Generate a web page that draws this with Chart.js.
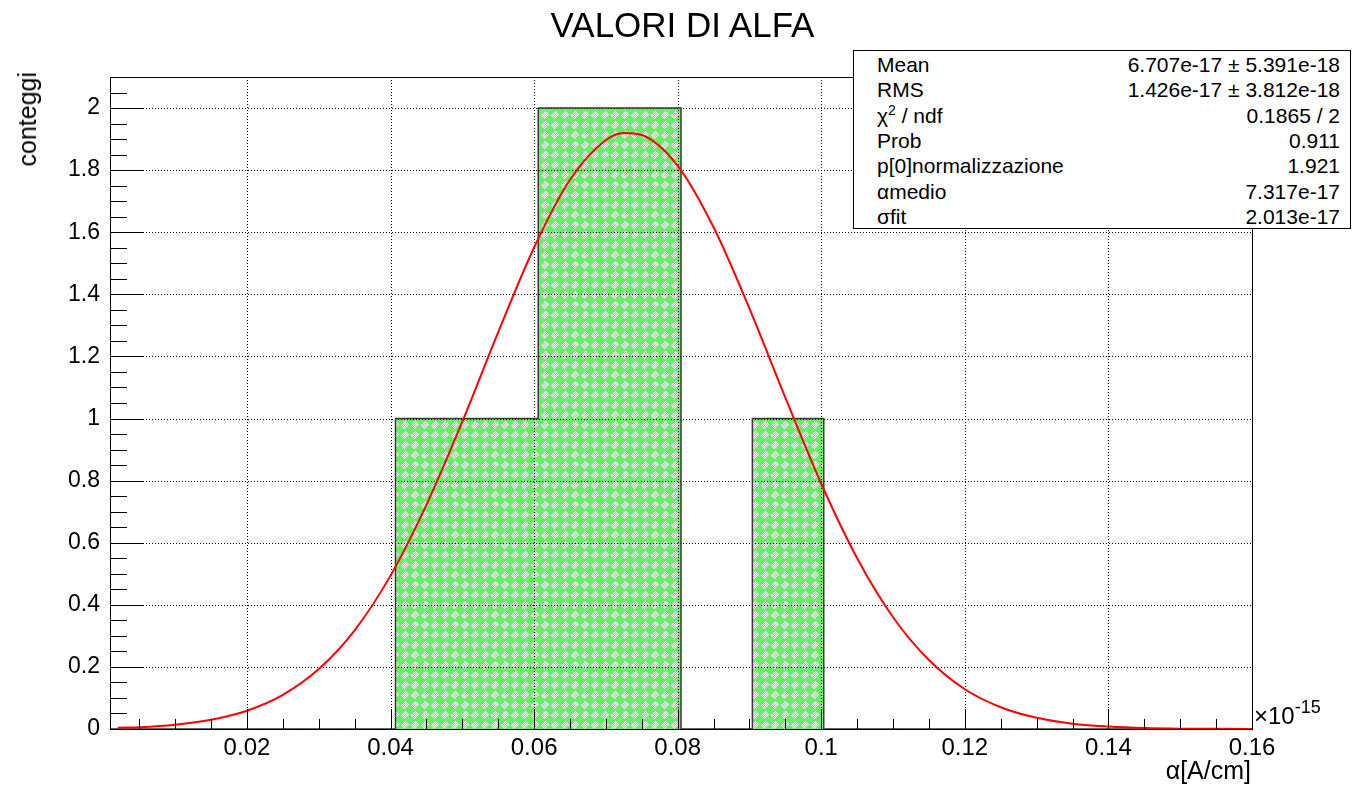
<!DOCTYPE html>
<html>
<head>
<meta charset="utf-8">
<script src="https://cdn.jsdelivr.net/npm/chart.js@4"></script>
<style>
  body { margin: 0; background: #fff; }
  #wrap { position: relative; width: 1365px; height: 786px; font-family: 'Liberation Sans', Arial, Helvetica, sans-serif; color: #000; }
  #wrap canvas { position: absolute; left: 0; top: 0; }
  .txt { position: absolute; white-space: nowrap; }
  #title { left: 0; width: 1365px; top: 5px; text-align: center; font-size: 35px; }
  #ylab { left: 15px; top: 72px; font-size: 25px; line-height: 25px; transform-origin: 0 0; transform: rotate(-90deg) translate(-100%, 0); }
  #xlab { right: 114px; top: 756px; font-size: 25px; }
  #expo { left: 1254px; top: 702px; font-size: 24px; line-height: 28px; }
  #expo sup { font-size: 18px; line-height: 0; position: relative; top: -2px; }
  #stats { position: absolute; left: 853px; top: 50px; width: 496px; height: 177px; border: 1px solid #000; background: #fff; font-size: 21px; }
  #stats .row { position: absolute; left: 23px; right: 10px; height: 25px; line-height: 25px; }
  #stats .row span:last-child { position: absolute; right: 0; top: 0; }
  #stats sup { font-size: 14px; line-height: 0; vertical-align: 8px; }
</style>
</head>
<body>
<div id="wrap">
  <canvas id="hist" width="1365" height="786"></canvas>
  <div class="txt" id="title">VALORI DI ALFA</div>
  <div class="txt" id="ylab">conteggi</div>
  <div class="txt" id="xlab">α[A/cm]</div>
  <div class="txt" id="expo">×10<sup>-15</sup></div>
  <div id="stats"></div>
</div>
<script>
// histogram: 16 bins between xMin and xMax (units of 1e-15)
const xMin = 0.00092;
const xMax = 0.16;
const binCounts = [0, 0, 0, 0, 1, 1, 2, 2, 0, 1, 0, 0, 0, 0, 0, 0];

// gaussian fit curve
const fitX = [0.002, 0.005, 0.010, 0.015, 0.020, 0.025, 0.030, 0.035, 0.040, 0.045, 0.050, 0.055, 0.060, 0.065, 0.070, 0.0725,
              0.075, 0.080, 0.085, 0.090, 0.095, 0.100, 0.105, 0.110, 0.115, 0.120, 0.125, 0.130, 0.135, 0.140, 0.145, 0.150, 0.155, 0.160];
const fitY = [0.004, 0.006, 0.014, 0.030, 0.059, 0.110, 0.193, 0.318, 0.494, 0.722, 0.990, 1.278, 1.551, 1.769, 1.897, 1.920,
              1.913, 1.814, 1.616, 1.354, 1.067, 0.790, 0.550, 0.360, 0.222, 0.128, 0.070, 0.036, 0.017, 0.008, 0.003, 0.001, 0.0005, 0.0002];

const xTicks = [0.02, 0.04, 0.06, 0.08, 0.1, 0.12, 0.14, 0.16];
const yTicks = [0, 0.2, 0.4, 0.6, 0.8, 1, 1.2, 1.4, 1.6, 1.8, 2];
const yMax = 2.1;

const statLabels = ['Mean', 'RMS', 'χ<sup>2</sup> / ndf', 'Prob', 'p[0]normalizzazione', 'αmedio', 'σfit'];
const statValues = ['6.707e-17 ± 5.391e-18', '1.426e-17 ± 3.812e-18', '0.1865 / 2', '0.911', '1.921', '7.317e-17', '2.013e-17'];

// stats box
const statsEl = document.getElementById('stats');
statsEl.innerHTML = statLabels.map((l, i) =>
  `<div class="row" style="top:${1 + i * 25.3}px"><span>${l}</span><span>${statValues[i]}</span></div>`
).join('');

const binW = (xMax - xMin) / binCounts.length;
const binData = binCounts.map((c, i) => ({ x: xMin + (i + 0.5) * binW, y: c }));
// outline of the histogram as a stepped line (left bin edges)
const outline = [{ x: xMin, y: 0 }].concat(binCounts.map((c, i) => ({ x: xMin + i * binW, y: c })));
outline.push({ x: xMax, y: 0 });
const fitData = fitX.map((x, i) => ({ x, y: fitY[i] }));

// green dithered fill like ROOT's pattern
function makePattern() {
  const c = document.createElement('canvas');
  c.width = 10; c.height = 10;
  const g = c.getContext('2d');
  g.fillStyle = '#66f066';
  g.fillRect(0, 0, 10, 10);
  g.fillStyle = '#ffffff';
  for (let y = 0; y < 10; y++) {
    for (let x = 0; x < 10; x++) {
      if (Math.abs(x - 4.5) + Math.abs(y - 4.5) < 5 && (x + y) % 2 === 0) g.fillRect(x, y, 1, 1);
    }
  }
  return g.createPattern(c, 'repeat');
}

const fmt = v => String(parseFloat(v.toFixed(3)));

// grid, inner ticks and frame (ROOT style)
const frameDecor = {
  id: 'frameDecor',
  afterDatasetDraw(chart, args) {
    if (args.index !== 0) return;
    const { ctx, chartArea: a, scales: { x, y } } = chart;
    ctx.save();
    ctx.strokeStyle = '#000';
    ctx.lineWidth = 1;
    ctx.setLineDash([1, 2]);
    ctx.beginPath();
    xTicks.forEach(v => {
      const px = Math.round(x.getPixelForValue(v)) + 0.5;
      if (px < a.right - 1) { ctx.moveTo(px, a.top); ctx.lineTo(px, a.bottom); }
    });
    yTicks.forEach(v => {
      const py = Math.round(y.getPixelForValue(v)) + 0.5;
      if (py < a.bottom - 1) { ctx.moveTo(a.left, py); ctx.lineTo(a.right, py); }
    });
    ctx.stroke();
    ctx.restore();
  },
  afterDatasetsDraw(chart) {
    const { ctx, chartArea: a, scales: { x, y } } = chart;
    ctx.save();
    ctx.strokeStyle = '#000';
    ctx.lineWidth = 1;
    ctx.beginPath();
    for (let k = 1; k * 0.005 <= xMax + 1e-9; k++) {
      const v = k * 0.005;
      if (v < xMin) continue;
      const px = Math.round(x.getPixelForValue(v)) + 0.5;
      const len = k % 4 === 0 ? 20 : 10;
      ctx.moveTo(px, a.bottom); ctx.lineTo(px, a.bottom - len);
    }
    for (let k = 0; k * 0.05 <= yMax; k++) {
      const py = Math.round(y.getPixelForValue(k * 0.05)) + 0.5;
      const len = k % 4 === 0 ? 34 : 17;
      ctx.moveTo(a.left, py); ctx.lineTo(a.left + len, py);
    }
    ctx.stroke();
    ctx.strokeRect(Math.round(a.left) + 0.5, Math.round(a.top) + 0.5, Math.round(a.right - a.left), Math.round(a.bottom - a.top));
    ctx.restore();
  }
};

new Chart(document.getElementById('hist'), {
  type: 'bar',
  data: {
    datasets: [
      {
        type: 'bar',
        data: binData,
        backgroundColor: makePattern(),
        borderWidth: 0,
        barPercentage: 1,
        categoryPercentage: 1,
        order: 3,
      },
      {
        type: 'line',
        data: outline,
        stepped: 'before',
        borderColor: '#3a3a3a',
        borderWidth: 1.5,
        pointRadius: 0,
        fill: false,
        order: 2,
      },
      {
        type: 'line',
        data: fitData,
        borderColor: '#ff0000',
        borderWidth: 2,
        pointRadius: 0,
        cubicInterpolationMode: 'monotone',
        fill: false,
        order: 1,
      }
    ]
  },
  options: {
    responsive: false,
    animation: false,
    devicePixelRatio: 1,
    layout: { padding: { top: 77, right: 113, left: 0, bottom: 0 } },
    plugins: { legend: { display: false }, tooltip: { enabled: false } },
    scales: {
      x: {
        type: 'linear',
        min: xMin, max: xMax,
        offset: false,
        grid: { display: false, drawTicks: false },
        border: { display: false },
        afterBuildTicks: s => { s.ticks = xTicks.map(v => ({ value: v })); },
        afterFit: s => { s.height = 57; },
        ticks: { color: '#000', padding: 5, maxRotation: 0, autoSkip: false, font: { family: "'Liberation Sans', Arial", size: 24 }, callback: fmt },
      },
      y: {
        min: 0, max: yMax,
        grid: { display: false, drawTicks: false },
        border: { display: false },
        afterBuildTicks: s => { s.ticks = yTicks.map(v => ({ value: v })); },
        afterFit: s => { s.width = 110; },
        ticks: { color: '#000', padding: 10, autoSkip: false, font: { family: "'Liberation Sans', Arial", size: 23 }, callback: fmt },
      }
    }
  },
  plugins: [frameDecor]
});
</script>
</body>
</html>
